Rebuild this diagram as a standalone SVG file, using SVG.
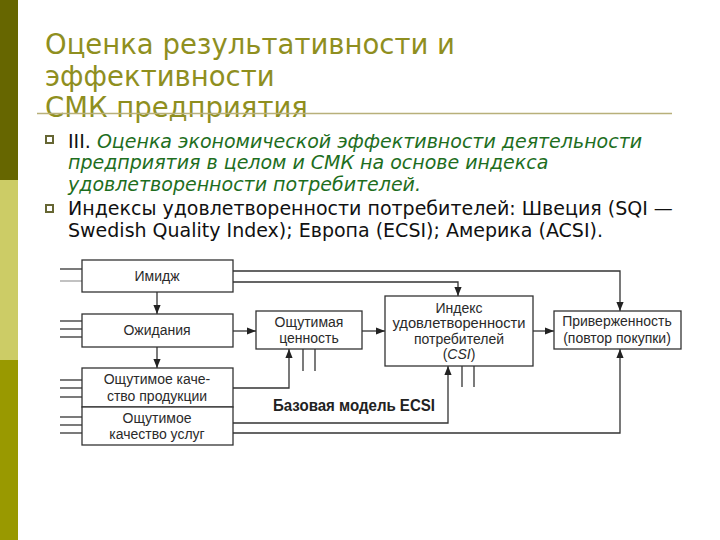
<svg xmlns="http://www.w3.org/2000/svg" width="720" height="540" viewBox="0 0 720 540">
<defs>
<marker id="ah" viewBox="0 0 10 10" refX="10" refY="5" markerWidth="9" markerHeight="9" markerUnits="userSpaceOnUse" orient="auto">
<path d="M0,1 L10,5 L0,9 Z" fill="#222"/>
</marker>
</defs>
<style>
.title{font-family:"DejaVu Sans",sans-serif;font-size:27.5px;fill:#8f8f1f}
.body{font-family:"DejaVu Sans",sans-serif;font-size:19px;fill:#111}
.it{font-style:italic;fill:#1e6e1e}
.box{fill:#fff;stroke:#333;stroke-width:1.3}
.lbl{font-family:"Liberation Sans",Arial,sans-serif;font-size:14px;fill:#2a2a2a;text-anchor:middle}
.ln{fill:none;stroke:#333;stroke-width:1.3}
.arr{fill:none;stroke:#333;stroke-width:1.3;marker-end:url(#ah)}
.bul{fill:none;stroke:#666633;stroke-width:2}
</style>
<rect x="0" y="0" width="720" height="540" fill="#fff"/>
<rect x="0" y="0" width="18" height="180" fill="#666600"/>
<rect x="0" y="180" width="18" height="180" fill="#cccc66"/>
<rect x="0" y="360" width="18" height="180" fill="#999900"/>

<g id="title">
<text class="title" x="45" y="54">Оценка результативности и</text>
<text class="title" x="45" y="86">эффективности</text>
<text class="title" x="45" y="117">СМК предприятия</text>
<line x1="37" y1="113.5" x2="672" y2="113.5" stroke="#b8b07a" stroke-width="1.5"/>
</g>

<g id="bullets">
<rect class="bul" x="46" y="136" width="7" height="7"/>
<text class="body" x="68" y="148">III. <tspan class="it">Оценка экономической эффективности деятельности</tspan></text>
<text class="body it" x="68" y="169">предприятия в целом и СМК на основе индекса</text>
<text class="body it" x="68" y="191">удовлетворенности потребителей.</text>
<rect class="bul" x="46" y="205" width="7" height="7"/>
<text class="body" x="68" y="215">Индексы удовлетворенности потребителей: Швеция (SQI —</text>
<text class="body" x="68" y="237">Swedish Quality Index); Европа (ECSI); Америка (ACSI).</text>
</g>

<g id="connectors">
<line class="ln" x1="60" y1="269" x2="82" y2="269"/>
<line x1="60" y1="281" x2="82" y2="281" stroke="#999" stroke-width="1.2"/>
<line class="ln" x1="60" y1="321" x2="82" y2="321"/>
<line class="ln" x1="60" y1="329" x2="82" y2="329"/>
<line class="ln" x1="60" y1="337" x2="82" y2="337"/>
<line class="ln" x1="60" y1="380" x2="82" y2="380"/>
<line class="ln" x1="60" y1="388" x2="82" y2="388"/>
<line class="ln" x1="60" y1="397" x2="82" y2="397"/>
<line class="ln" x1="60" y1="417" x2="82" y2="417"/>
<line class="ln" x1="60" y1="425" x2="82" y2="425"/>
<line class="ln" x1="60" y1="433" x2="82" y2="433"/>
<line class="arr" x1="157" y1="292" x2="157" y2="314"/>
<line class="arr" x1="157" y1="347" x2="157" y2="368"/>
<line class="arr" x1="233" y1="331" x2="256" y2="331"/>
<line class="arr" x1="362" y1="331" x2="385" y2="331"/>
<line class="arr" x1="533" y1="331" x2="554" y2="331"/>
<polyline class="arr" points="233,271 620,271 620,311"/>
<polyline class="arr" points="233,282 458,282 458,296"/>
<polyline class="arr" points="233,388 289,388 289,349"/>
<polyline class="arr" points="233,423 448,423 448,366"/>
<polyline class="arr" points="233,433 620,433 620,349"/>
<line class="ln" x1="303" y1="349" x2="303" y2="371"/>
<line class="ln" x1="315" y1="349" x2="315" y2="371"/>
<line class="ln" x1="462" y1="366" x2="462" y2="387"/>
<line class="ln" x1="474" y1="366" x2="474" y2="387"/>
</g>

<g id="image">
<rect class="box" x="82" y="260" width="151" height="32"/>
<text class="lbl" x="157" y="281">Имидж</text>
</g>
<g id="expectations">
<rect class="box" x="82" y="314" width="151" height="33"/>
<text class="lbl" x="157" y="335">Ожидания</text>
</g>
<g id="product-quality">
<rect class="box" x="82" y="368" width="151" height="39"/>
<text class="lbl" x="157" y="384">Ощутимое каче-</text>
<text class="lbl" x="157" y="401">ство продукции</text>
</g>
<g id="service-quality">
<rect class="box" x="82" y="407" width="151" height="38"/>
<text class="lbl" x="157" y="423">Ощутимое</text>
<text class="lbl" x="157" y="439">качество услуг</text>
</g>
<g id="perceived-value">
<rect class="box" x="256" y="311" width="106" height="38"/>
<text class="lbl" x="309" y="327">Ощутимая</text>
<text class="lbl" x="309" y="343">ценность</text>
</g>
<g id="csi">
<rect class="box" x="385" y="296" width="148" height="70"/>
<text class="lbl" x="459" y="313">Индекс</text>
<text class="lbl" x="459" y="328" textLength="133" lengthAdjust="spacingAndGlyphs">удовлетворенности</text>
<text class="lbl" x="459" y="344">потребителей</text>
<text class="lbl" x="459" y="359">(<tspan font-style="italic">CSI</tspan>)</text>
</g>
<g id="loyalty">
<rect class="box" x="554" y="311" width="127" height="38"/>
<text class="lbl" x="617" y="326">Приверженность</text>
<text class="lbl" x="617" y="343">(повтор покупки)</text>
</g>
<g id="caption">
<text x="354" y="411" font-family="'Liberation Sans',Arial,sans-serif" font-size="16" font-weight="bold" fill="#222" text-anchor="middle" textLength="162" lengthAdjust="spacingAndGlyphs">Базовая модель ECSI</text>
</g>
</svg>
